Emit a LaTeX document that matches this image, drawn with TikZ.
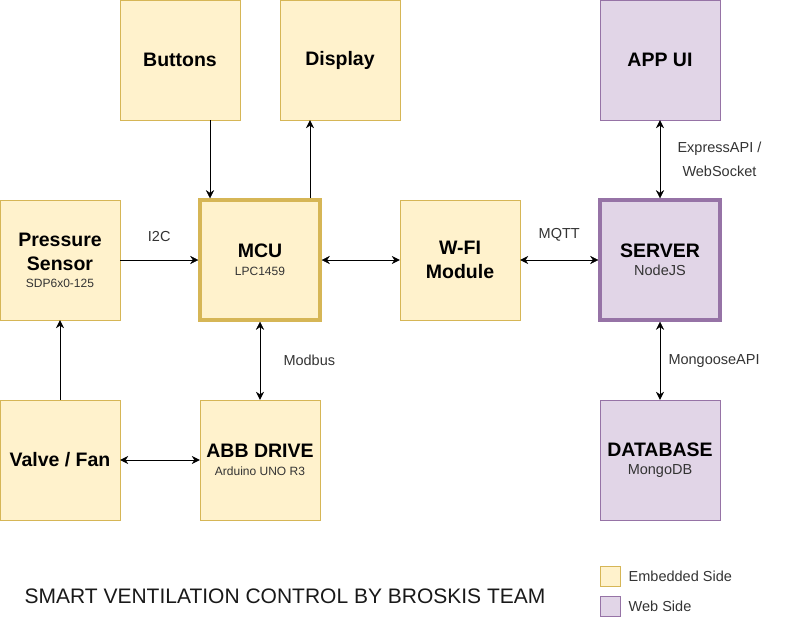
\documentclass[tikz,border=0pt]{standalone}
\usepackage{fontspec}
\setmainfont{Liberation Sans}
\usetikzlibrary{arrows.meta}

\definecolor{embfill}{HTML}{FFF2CC}
\definecolor{embline}{HTML}{D6B656}
\definecolor{webfill}{HTML}{E1D5E7}
\definecolor{webline}{HTML}{9673A6}
\definecolor{lblgray}{HTML}{333333}

\newcommand{\headtxt}{\fontsize{19.5}{24}\selectfont\bfseries}
\newcommand{\subtxt}{\fontsize{12}{14}\selectfont\mdseries\color{lblgray}}
\newcommand{\subbig}{\fontsize{14.5}{17}\selectfont\mdseries\color{lblgray}}

\begin{document}
\begin{tikzpicture}[>={Stealth[width=8pt,length=8pt]}, emb/.style={draw=embline, fill=embfill, minimum size=120pt, inner sep=0pt, align=center, font=\headtxt}, web/.style={draw=webline, fill=webfill, minimum size=120pt, inner sep=0pt, align=center, font=\headtxt}, hub/.style={line width=3.5pt}, lbl/.style={text=lblgray, align=center, font=\fontsize{14.5}{24}\selectfont}, swatch/.style={minimum size=20pt, inner sep=0pt}]
  \useasboundingbox (0pt, 0pt) rectangle (801pt, -621pt);
  \draw (180.0pt, -60.0pt)node[emb](buttons){Buttons};
  \draw (340.0pt, -60.0pt)node[emb](display){Display};
  \draw (660.0pt, -60.0pt)node[web](appui){APP UI};
  \draw (60.0pt, -260.0pt)node[emb](sensor){Pressure\\Sensor\\[-7pt]{\subtxt SDP6x0-125}};
  \draw (260.0pt, -260.0pt)node[emb, hub](mcu){MCU\\[-6pt]{\subtxt LPC1459}};
  \draw (460.0pt, -260.0pt)node[emb](wifi){W-FI\\Module};
  \draw (660.0pt, -260.0pt)node[web, hub](server){SERVER\\[-6pt]{\subbig NodeJS}};
  \draw (60.0pt, -460.0pt)node[emb](valve){Valve / Fan};
  \draw (260.0pt, -460.0pt)node[emb](drive){ABB DRIVE\\[-6pt]{\subtxt Arduino UNO R3}};
  \draw (660.0pt, -460.0pt)node[web](database){DATABASE\\[-6pt]{\subbig MongoDB}};
  \path[->] ([xshift=30pt]buttons.south) edge ([xshift=-50pt]mcu.north);
  \path[->] ([xshift=50pt]mcu.north) edge ([xshift=-30pt]display.south);
  \path[->] (sensor) edge node[lbl, above=15pt]{I2C}(mcu);
  \path[<->] (mcu) edge (wifi);
  \path[<->] (wifi) edge node[lbl, above=15pt]{MQTT}(server);
  \path[<->] (appui) edge node[lbl, right=14pt]{ExpressAPI /\\WebSocket}(server);
  \path[<->] (server) edge node[lbl, right=5pt]{MongooseAPI}(database);
  \path[<->] (mcu) edge node[lbl, right=20pt]{Modbus}(drive);
  \path[->] (valve) edge (sensor);
  \path[<->] (valve) edge (drive);
  % legend and title
  \draw (610.0pt, -576.0pt)node[swatch, draw=embline, fill=embfill](legemb){};
  \draw (610.0pt, -606.0pt)node[swatch, draw=webline, fill=webfill](legweb){};
  \node[lbl, anchor=west, xshift=5pt] at (legemb.east){Embedded Side};
  \node[lbl, anchor=west, xshift=5pt] at (legweb.east){Web Side};
  \node[font=\fontsize{21}{24}\selectfont, text=black!90] (title) at (285pt, -596pt){SMART VENTILATION CONTROL BY BROSKIS TEAM};
\end{tikzpicture}
\end{document}
